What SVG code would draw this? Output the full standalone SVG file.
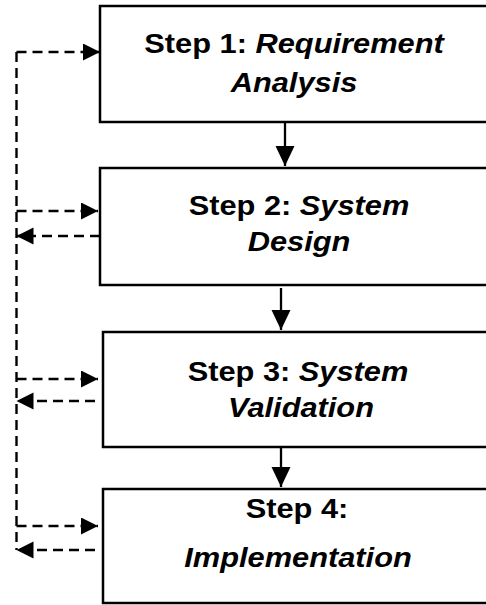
<svg xmlns="http://www.w3.org/2000/svg" width="486" height="605" viewBox="0 0 486 605">
  <style>
    .box { fill: #fff; stroke: #000; stroke-width: 2.5; }
    .lbl { font-family: "Liberation Sans", Arial, sans-serif; font-weight: bold; font-size: 28px; fill: #000; text-anchor: middle; }
    .it { font-style: italic; }
    .flow { stroke: #000; stroke-width: 2.3; fill: none; }
    .fb { stroke: #000; stroke-width: 2.4; fill: none; stroke-dasharray: 10 6; }
  </style>
  <defs>
    <marker id="head" markerUnits="userSpaceOnUse" markerWidth="20" markerHeight="20" refX="20" refY="9.5" orient="auto">
      <path d="M0,0 L20,9.5 L0,19 Z" fill="#000"/>
    </marker>
    <marker id="dhead" markerUnits="userSpaceOnUse" markerWidth="18" markerHeight="18" refX="17" refY="8.5" orient="auto">
      <path d="M0,0 L17,8.5 L0,17 Z" fill="#000"/>
    </marker>
  </defs>

  <g id="step1">
    <rect class="box" x="100" y="6" width="400" height="116"/>
    <text class="lbl" transform="translate(294,53) scale(1.1,1)">Step 1: <tspan class="it">Requirement</tspan></text>
    <text class="lbl it" transform="translate(294,92) scale(1.1,1)">Analysis</text>
  </g>

  <g id="step2">
    <rect class="box" x="100" y="168" width="400" height="117"/>
    <text class="lbl" transform="translate(299,215) scale(1.1,1)">Step 2: <tspan class="it">System</tspan></text>
    <text class="lbl it" transform="translate(299,251) scale(1.1,1)">Design</text>
  </g>

  <g id="step3">
    <rect class="box" x="103" y="332" width="400" height="115"/>
    <text class="lbl" transform="translate(298,381) scale(1.1,1)">Step 3: <tspan class="it">System</tspan></text>
    <text class="lbl it" transform="translate(301,417) scale(1.1,1)">Validation</text>
  </g>

  <g id="step4">
    <rect class="box" x="103" y="489" width="400" height="114"/>
    <text class="lbl" transform="translate(297,518) scale(1.1,1)">Step 4:</text>
    <text class="lbl it" transform="translate(298,567) scale(1.1,1)">Implementation</text>
  </g>

  <g id="connectors">
    <!-- forward flow between steps -->
    <line class="flow" x1="285" y1="122" x2="285" y2="166" marker-end="url(#head)"/>
    <line class="flow" x1="281" y1="288" x2="281" y2="330" marker-end="url(#head)"/>
    <line class="flow" x1="281" y1="447" x2="281" y2="487" marker-end="url(#head)"/>

    <!-- feedback bus on the left -->
    <line class="fb" x1="16.5" y1="52" x2="16.5" y2="550"/>
    <line class="fb" x1="16.5" y1="52" x2="100" y2="52" marker-end="url(#dhead)"/>
    <line class="fb" x1="16.5" y1="211" x2="98" y2="211" marker-end="url(#dhead)"/>
    <line class="fb" x1="100" y1="236" x2="16.5" y2="236" marker-end="url(#dhead)"/>
    <line class="fb" x1="16.5" y1="379" x2="98" y2="379" marker-end="url(#dhead)"/>
    <line class="fb" x1="95" y1="401" x2="16.5" y2="401" marker-end="url(#dhead)"/>
    <line class="fb" x1="16.5" y1="526" x2="98" y2="526" marker-end="url(#dhead)"/>
    <line class="fb" x1="95" y1="550" x2="16.5" y2="550" marker-end="url(#dhead)"/>
  </g>
</svg>
